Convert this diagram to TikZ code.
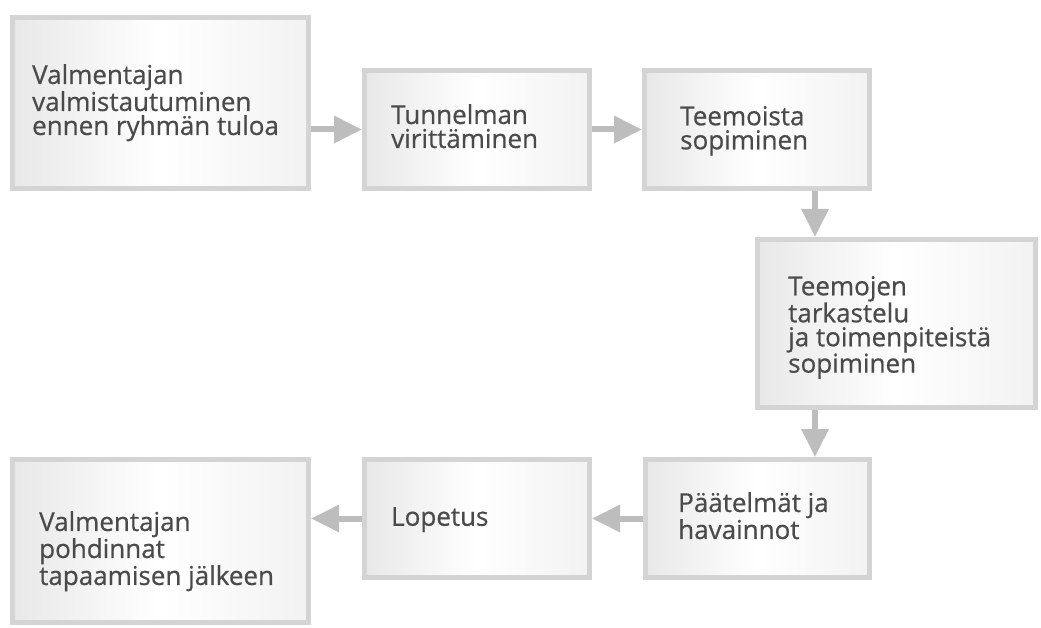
\documentclass[tikz,border=0pt]{standalone}
\usepackage{fontspec}
\setmainfont[FakeBold=0.6]{Open Sans}
\usetikzlibrary{arrows.meta,calc}
\definecolor{bordergray}{HTML}{D4D4D4}
\definecolor{arrowgray}{HTML}{BDBDBD}
\definecolor{textgray}{HTML}{4A4A4A}
\begin{document}
\begin{tikzpicture}[x=1pt,y=-1pt,
  box/.style={draw=bordergray, line width=5pt, left color=black!9, right color=black!5,
    middle color=white, anchor=north west, inner sep=0pt},
  txt/.style={anchor=north west, inner sep=0pt, align=left,
    font=\fontsize{26}{24}\selectfont, text=textgray},
  arr/.style={draw=arrowgray, line width=6pt, -{Triangle[length=28pt,width=26pt]}}]
\useasboundingbox[fill=white] (0,0) rectangle (1041,628);
% boxes (outer corner at the given point)
\node[box, minimum width=296pt, minimum height=171pt] (b1) at (10,15) {};
\node[box, minimum width=225pt, minimum height=118pt] (b2) at (362,68) {};
\node[box, minimum width=225pt, minimum height=118pt] (b3) at (642,68) {};
\node[box, minimum width=278pt, minimum height=168pt] (b4) at (755,237) {};
\node[box, minimum width=224pt, minimum height=118pt] (b5) at (643,457) {};
\node[box, minimum width=225pt, minimum height=118pt] (b6) at (362,457) {};
\node[box, minimum width=296pt, minimum height=163pt] (b7) at (10,457) {};
% texts
\node[txt] (t1) at ($(b1.north west)+(22,49)$) {Valmentajan\\valmistautuminen\\ennen ryhmän tuloa};
\node[txt] (t2) at ($(b2.north west)+(29,36)$) {Tunnelman\\virittäminen};
\node[txt] (t3) at ($(b3.north west)+(38,38)$) {Teemoista\\sopiminen};
\node[txt] (t4) at ($(b4.north west)+(33,39)$) {Teemojen\\tarkastelu\\ja toimenpiteistä\\sopiminen};
\node[txt] (t5) at ($(b5.north west)+(35,35)$) {Päätelmät ja\\havainnot};
\node[txt] (t6) at ($(b6.north west)+(29,50)$) {Lopetus};
\node[txt] (t7) at ($(b7.north west)+(29,54)$) {Valmentajan\\pohdinnat\\tapaamisen jälkeen};
% connectors
\coordinate (vx) at (815,0);
\draw[arr] (b2.west -| b1.east) -- (b2.west);
\draw[arr] (b2.east) -- (b3.west);
\draw[arr] (b3.south -| vx) -- (b4.north -| vx);
\draw[arr] (b4.south -| vx) -- (b5.north -| vx);
\draw[arr] (b5.west) -- (b6.east);
\draw[arr] (b6.west) -- (b6.west -| b7.east);
\end{tikzpicture}
\end{document}
